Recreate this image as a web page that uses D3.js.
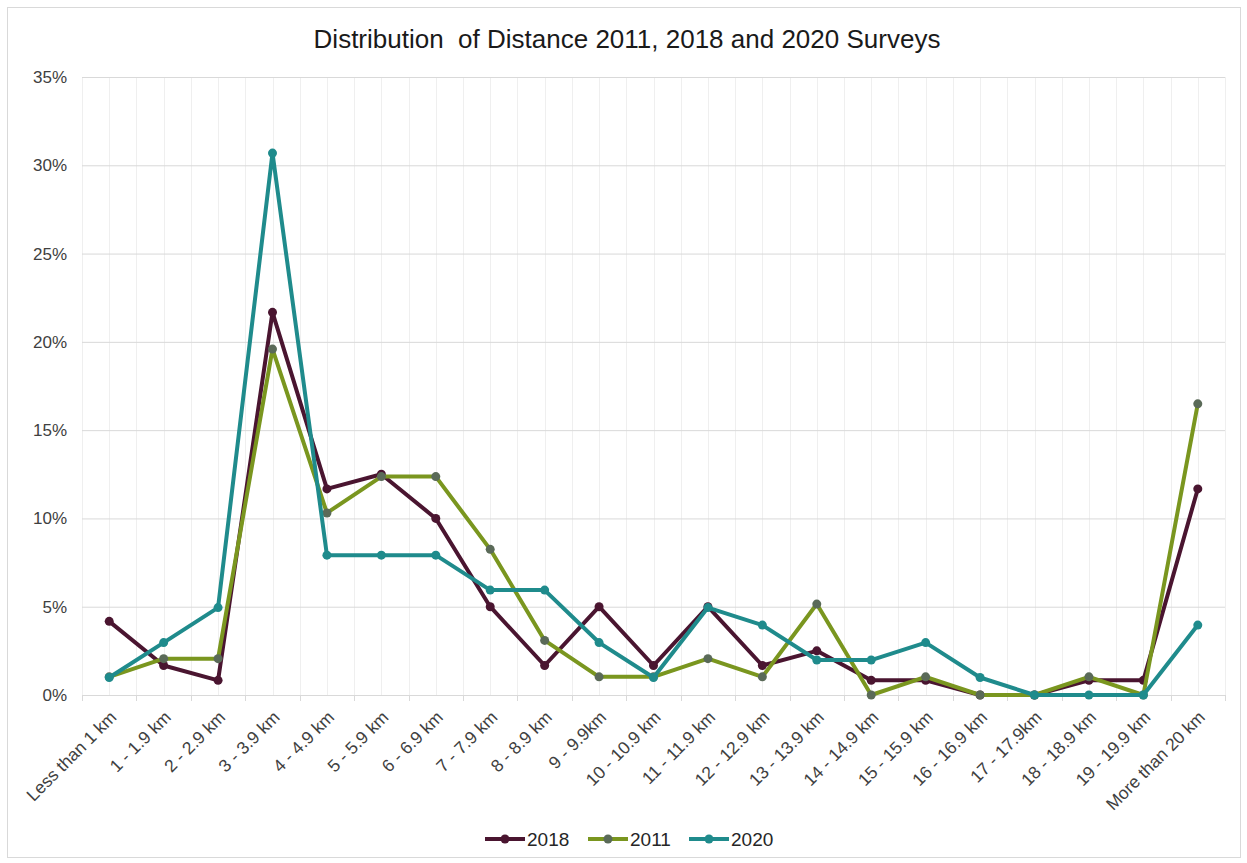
<!DOCTYPE html>
<html>
<head>
<meta charset="utf-8">
<script src="https://cdn.jsdelivr.net/npm/d3@7"></script>
<style>
  body { margin: 0; background: #ffffff; }
  svg { display: block; font-family: "Liberation Sans", Arial, sans-serif; }
</style>
</head>
<body>
<svg id="chart" width="1247" height="863"></svg>
<script>
// Distance bands
const categories = [
  "Less than 1 km", "1 - 1.9 km", "2 - 2.9 km", "3 - 3.9 km", "4 - 4.9 km",
  "5 - 5.9 km", "6 - 6.9 km", "7 - 7.9 km", "8 - 8.9 km", "9 - 9.9km",
  "10 - 10.9 km", "11 - 11.9 km", "12 - 12.9 km", "13 - 13.9 km", "14 - 14.9 km",
  "15 - 15.9 km", "16 - 16.9 km", "17 - 17.9km", "18 - 18.9 km", "19 - 19.9 km",
  "More than 20 km"
];

// Share of respondents (%) per band
const values2018 = [4.17, 1.67, 0.83, 21.67, 11.67, 12.5, 10.0, 5.0, 1.67, 5.0,
  1.67, 5.0, 1.67, 2.5, 0.83, 0.83, 0, 0, 0.83, 0.83, 11.67];
const values2011 = [1.03, 2.06, 2.06, 19.59, 10.31, 12.37, 12.37, 8.25, 3.09, 1.03,
  1.03, 2.06, 1.03, 5.15, 0, 1.03, 0, 0, 1.03, 0, 16.49];
const values2020 = [0.99, 2.97, 4.95, 30.69, 7.92, 7.92, 7.92, 5.94, 5.94, 2.97,
  0.99, 4.95, 3.96, 1.98, 1.98, 2.97, 0.99, 0, 0, 0, 3.96];

const yTicks = [0, 5, 10, 15, 20, 25, 30, 35];

const series = [
  { name: "2018", values: values2018, line: "#4a1530", marker: "#4a1530" },
  { name: "2011", values: values2011, line: "#7a961f", marker: "#5a6a58" },
  { name: "2020", values: values2020, line: "#1f8b8c", marker: "#1f8b8c" }
];

const svg = d3.select("#chart");
const plot = { left: 82, right: 1225, top: 77, bottom: 695 };
const textColor = "#404040";

// Outer frame
svg.append("rect")
  .attr("x", 7.5).attr("y", 7.5)
  .attr("width", 1233).attr("height", 850)
  .attr("fill", "#ffffff").attr("stroke", "#d9d9d9").attr("stroke-width", 1);

const x = d3.scaleBand().domain(categories).range([plot.left, plot.right]).paddingInner(0).paddingOuter(0);
const y = d3.scaleLinear().domain([0, 35]).range([plot.bottom, plot.top]);
const cx = d => x(d) + x.bandwidth() / 2;

// Vertical gridlines at band edges and centres
const vLines = [];
categories.forEach(c => { vLines.push(x(c)); vLines.push(cx(c)); });
vLines.push(plot.right);
svg.append("g").selectAll("line").data(vLines).join("line")
  .attr("x1", d => Math.round(d) + 0.5).attr("x2", d => Math.round(d) + 0.5)
  .attr("y1", plot.top).attr("y2", plot.bottom)
  .attr("stroke", "#efefef").attr("stroke-width", 1);

// Horizontal gridlines + y labels via axis
const yAxis = svg.append("g")
  .attr("transform", `translate(${plot.left},0)`)
  .call(d3.axisLeft(y).tickValues(yTicks).tickSize(-(plot.right - plot.left)).tickPadding(15)
    .tickFormat(d => d + "%"));
yAxis.select(".domain").remove();
yAxis.selectAll(".tick line").attr("stroke", "#d9d9d9");
yAxis.selectAll(".tick text").attr("fill", textColor).attr("font-size", 17);

// X axis with ticks at band boundaries
const xAxisG = svg.append("g").attr("transform", `translate(0,${plot.bottom})`);
xAxisG.append("line")
  .attr("x1", plot.left).attr("x2", plot.right).attr("y1", 0.5).attr("y2", 0.5)
  .attr("stroke", "#d9d9d9");
const edges = categories.map(c => x(c)).concat([plot.right]);
xAxisG.selectAll("line.tk").data(edges).join("line").attr("class", "tk")
  .attr("x1", d => Math.round(d) + 0.5).attr("x2", d => Math.round(d) + 0.5)
  .attr("y1", 0).attr("y2", 6)
  .attr("stroke", "#d9d9d9");
xAxisG.selectAll("text").data(categories).join("text")
  .attr("transform", d => `translate(${cx(d) + 4},${19}) rotate(-45)`)
  .attr("text-anchor", "end")
  .attr("dy", "0.35em")
  .attr("fill", textColor).attr("font-size", 17.5)
  .text(d => d);

// Lines and markers
const line = d3.line().x((d, i) => cx(categories[i])).y(d => y(d));
series.forEach(s => {
  const g = svg.append("g");
  g.append("path").datum(s.values)
    .attr("d", line).attr("fill", "none")
    .attr("stroke", s.line).attr("stroke-width", 4)
    .attr("stroke-linejoin", "round");
  g.selectAll("circle").data(s.values).join("circle")
    .attr("cx", (d, i) => cx(categories[i])).attr("cy", d => y(d))
    .attr("r", 4.5).attr("fill", s.marker);
});

// Title
svg.append("text")
  .attr("x", 627).attr("y", 47.5)
  .attr("text-anchor", "middle")
  .attr("font-size", 26).attr("fill", "#1a1a1a")
  .attr("xml:space", "preserve")
  .text("Distribution  of Distance 2011, 2018 and 2020 Surveys");

// Legend
const legendStarts = [485, 588, 689];
const legend = svg.append("g");
series.forEach((s, i) => {
  const lx = legendStarts[i];
  const lg = legend.append("g").attr("transform", `translate(${lx},839)`);
  lg.append("line").attr("x1", 0).attr("x2", 40).attr("y1", 0).attr("y2", 0)
    .attr("stroke", s.line).attr("stroke-width", 4);
  lg.append("circle").attr("cx", 20).attr("cy", 0).attr("r", 4.5).attr("fill", s.marker);
  lg.append("text").attr("x", 42).attr("y", 0).attr("dy", "0.36em")
    .attr("font-size", 19).attr("fill", "#262626").text(s.name);
});
</script>
</body>
</html>
